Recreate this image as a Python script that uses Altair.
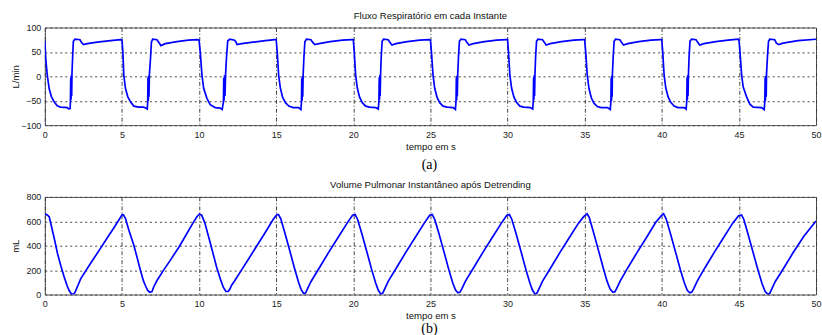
import altair as alt
import pandas as pd

# ---- Flow (L/min), cycle by cycle ----
flow_t = [
    0.00, 0.06, 0.16, 0.28, 0.43, 0.60, 0.82, 1.03, 1.46, 1.57, 1.64, 1.66, 1.68, 1.70, 1.72, 1.74, 1.76, 1.80, 1.85, 1.95, 2.28, 2.37, 2.50, 2.76, 3.40, 4.26, 4.90,
    5.00, 5.06, 5.12, 5.23, 5.38, 5.55, 5.77, 6.09, 6.41, 6.59, 6.64, 6.67, 6.69, 6.71, 6.73, 6.75, 6.78, 6.85, 6.91, 6.99, 7.27, 7.38, 7.53, 7.81, 8.57, 9.30, 9.90,
    10.00, 10.08, 10.19, 10.30, 10.51, 10.72, 11.05, 11.37, 11.50, 11.58, 11.60, 11.62, 11.65, 11.68, 11.72, 11.78, 11.86, 12.00, 12.30, 12.40, 12.46, 12.76, 13.50, 14.30, 14.92,
    15.00, 15.07, 15.16, 15.27, 15.42, 15.60, 15.82, 16.10, 16.45, 16.60, 16.64, 16.66, 16.68, 16.70, 16.72, 16.75, 16.80, 16.86, 16.96, 17.25, 17.36, 17.50, 17.78, 18.50, 19.30, 19.92,
    20.00, 20.06, 20.15, 20.26, 20.40, 20.58, 20.80, 21.05, 21.45, 21.62, 21.66, 21.68, 21.70, 21.72, 21.74, 21.77, 21.81, 21.87, 21.96, 22.26, 22.37, 22.50, 22.76, 23.50, 24.30, 24.92,
    25.00, 25.07, 25.17, 25.28, 25.43, 25.60, 25.82, 26.08, 26.48, 26.62, 26.66, 26.68, 26.70, 26.72, 26.74, 26.77, 26.82, 26.88, 26.98, 27.26, 27.36, 27.50, 27.78, 28.50, 29.30, 29.92,
    30.00, 30.06, 30.15, 30.26, 30.41, 30.58, 30.80, 31.05, 31.48, 31.63, 31.67, 31.69, 31.71, 31.73, 31.75, 31.78, 31.82, 31.88, 31.97, 32.27, 32.38, 32.50, 32.77, 33.50, 34.30, 34.92,
    35.00, 35.07, 35.17, 35.28, 35.43, 35.60, 35.82, 36.08, 36.48, 36.66, 36.70, 36.72, 36.74, 36.76, 36.78, 36.80, 36.85, 36.91, 37.00, 37.28, 37.39, 37.52, 37.80, 38.50, 39.30, 39.92,
    40.00, 40.06, 40.15, 40.26, 40.41, 40.58, 40.80, 41.05, 41.45, 41.58, 41.62, 41.64, 41.66, 41.68, 41.70, 41.73, 41.77, 41.83, 41.93, 42.22, 42.33, 42.46, 42.74, 43.50, 44.30, 44.96,
    45.00, 45.07, 45.18, 45.28, 45.50, 45.71, 45.93, 46.47, 46.64, 46.68, 46.70, 46.72, 46.74, 46.77, 46.79, 46.85, 46.92, 47.00, 47.32, 47.43, 47.58, 47.86, 48.83, 50.00,
]
flow_v = [
    73, 36, 2, -25, -42, -52, -61, -63, -64, -67, -66, -50, -3, -48, 2, -40, 6, 38, 72, 76, 75, 70, 65, 67, 70, 73, 75,
    74, 50, 2, -25, -42, -52, -61, -63, -63, -66, -67, -52, -2, -50, 1, -42, 4, 36, 70, 76, 75, 70, 63, 67, 71, 74, 75,
    74, 48, 2, -25, -45, -58, -64, -65, -68, -52, -3, -50, 2, -40, 5, 40, 73, 76, 74, 70, 65, 67, 70, 73, 75,
    75, 48, 2, -24, -43, -54, -61, -64, -64, -68, -52, -4, -50, 0, -42, 5, 40, 71, 76, 75, 70, 65, 67, 71, 74, 75,
    75, 50, 3, -24, -42, -54, -61, -63, -64, -67, -50, -2, -48, 2, -40, 6, 40, 72, 76, 75, 70, 64, 67, 71, 74, 75,
    74, 48, 2, -25, -43, -54, -61, -63, -64, -68, -51, -3, -49, 1, -41, 5, 40, 72, 76, 75, 70, 64, 67, 71, 74, 75,
    75, 50, 3, -24, -42, -53, -61, -63, -64, -67, -50, -2, -48, 2, -40, 6, 40, 72, 76, 75, 70, 64, 67, 71, 74, 75,
    75, 48, 2, -25, -44, -55, -62, -64, -64, -68, -52, -3, -50, 1, -42, 5, 40, 72, 76, 75, 70, 64, 67, 71, 74, 75,
    75, 50, 3, -24, -42, -53, -61, -64, -64, -67, -50, -2, -48, 2, -40, 6, 40, 72, 76, 75, 70, 64, 67, 71, 74, 76,
    75, 50, 2, -22, -42, -57, -63, -64, -68, -52, -3, -50, 1, -42, 3, 40, 72, 76, 75, 68, 65, 68, 73, 76,
]

# ---- Volume (mL) ----
vol_t = [
    0.00, 0.12, 0.28, 0.37, 0.60, 0.82, 1.05, 1.25, 1.45, 1.57, 1.70, 1.79, 1.88, 1.97, 2.15, 2.33, 3.00, 3.50, 4.00, 4.50, 4.80, 5.02,
    5.10, 5.23, 5.45, 5.77, 6.00, 6.20, 6.40, 6.52, 6.67, 6.80, 6.95, 7.05, 7.27, 7.70, 8.13, 8.70, 9.20, 9.60, 9.85, 10.02,
    10.17, 10.39, 10.71, 11.14, 11.40, 11.57, 11.74, 11.89, 12.00, 12.10, 12.32, 12.80, 13.30, 13.80, 14.30, 14.80, 15.05,
    15.15, 15.30, 15.55, 15.90, 16.20, 16.45, 16.62, 16.78, 16.90, 17.02, 17.25, 17.80, 18.40, 19.00, 19.60, 19.95,
    20.12, 20.28, 20.55, 20.90, 21.20, 21.45, 21.62, 21.78, 21.90, 22.03, 22.27, 22.80, 23.40, 24.00, 24.60, 24.95,
    25.12, 25.28, 25.55, 25.90, 26.20, 26.45, 26.62, 26.78, 26.92, 27.05, 27.28, 27.80, 28.40, 29.00, 29.60, 29.95,
    30.12, 30.28, 30.55, 30.90, 31.20, 31.45, 31.62, 31.78, 31.90, 32.03, 32.27, 32.80, 33.40, 34.00, 34.60, 34.95,
    35.16, 35.30, 35.55, 35.90, 36.20, 36.45, 36.65, 36.82, 36.95, 37.08, 37.30, 37.80, 38.40, 39.00, 39.60, 40.00,
    40.12, 40.28, 40.55, 40.90, 41.20, 41.45, 41.65, 41.82, 41.95, 42.08, 42.30, 42.80, 43.40, 44.00, 44.60, 44.98,
    45.17, 45.32, 45.58, 45.93, 46.25, 46.50, 46.70, 46.88, 47.00, 47.12, 47.35, 47.90, 48.50, 49.20, 50.00,
]
vol_v = [
    660, 655, 638, 590, 465, 337, 230, 145, 70, 35, 8, 0, 4, 22, 76, 131, 262, 358, 455, 552, 611, 655,
    652, 622, 526, 403, 295, 197, 110, 74, 33, 19, 25, 60, 115, 200, 280, 390, 498, 585, 635, 660,
    650, 580, 430, 224, 120, 60, 25, 25, 45, 74, 115, 210, 310, 410, 510, 615, 655,
    655, 620, 510, 350, 210, 100, 40, 8, 12, 45, 105, 220, 345, 465, 585, 650,
    655, 615, 500, 340, 200, 95, 35, 5, 10, 45, 110, 220, 345, 465, 585, 650,
    655, 615, 500, 340, 200, 95, 38, 15, 20, 50, 112, 220, 345, 465, 585, 650,
    655, 615, 500, 340, 200, 95, 35, 5, 10, 45, 110, 220, 345, 465, 585, 640,
    662, 630, 520, 360, 220, 110, 45, 20, 22, 50, 110, 220, 345, 465, 590, 650,
    662, 620, 505, 345, 205, 100, 35, 14, 20, 50, 110, 220, 345, 465, 585, 645,
    652, 615, 500, 340, 195, 90, 25, 3, 10, 42, 105, 215, 340, 475, 603,
]

x_ticks = [0, 5, 10, 15, 20, 25, 30, 35, 40, 45, 50]
flow_ticks = [-100, -50, 0, 50, 100]
vol_ticks = [0, 200, 400, 600, 800]

title_a = "Fluxo Respiratório em cada Instante"
title_b = "Volume Pulmonar Instantâneo após Detrending"

flow_df = pd.DataFrame({"t": flow_t, "v": flow_v})
vol_df = pd.DataFrame({"t": vol_t, "v": vol_v})

W, H = 774, 98
SANS = "Liberation Sans"


def panel(df, ytitle, ydomain, yticks, title, title_offset):
    return (
        alt.Chart(df)
        .mark_line(color="#0000FF", strokeWidth=1.7, clip=True)
        .encode(
            x=alt.X(
                "t:Q",
                scale=alt.Scale(domain=[0, 50], nice=False, zero=False),
                axis=alt.Axis(
                    values=x_ticks, title="tempo em s", labelFlush=False,
                    gridDash=[4, 2, 1, 2], labelPadding=5, titlePadding=2,
                ),
            ),
            y=alt.Y(
                "v:Q",
                scale=alt.Scale(domain=ydomain, nice=False, zero=False),
                axis=alt.Axis(
                    values=yticks, title=ytitle, gridDash=[2, 3],
                    labelPadding=4, minExtent=20, maxExtent=20, titlePadding=4,
                ),
            ),
        )
        .properties(
            width=W, height=H,
            title=alt.TitleParams(
                title, fontSize=9.6, font=SANS, fontWeight="normal",
                anchor="middle", frame="group", baseline="alphabetic",
                offset=title_offset, color="#111111",
            ),
        )
    )


top = panel(flow_df, "L/min", [-100, 100], flow_ticks, title_a, -5)
bot = panel(vol_df, "mL", [0, 800], vol_ticks, title_b, -5)

cap_a = alt.vconcat(
    top,
    title=alt.TitleParams(
        "(a)", orient="bottom", font="Liberation Serif", fontSize=14,
        fontWeight="normal", anchor="middle", frame="group", dx=386, offset=7,
        color="#000000",
    ),
)
cap_b = alt.vconcat(
    bot,
    title=alt.TitleParams(
        "(b)", orient="bottom", font="Liberation Serif", fontSize=14,
        fontWeight="normal", anchor="middle", frame="group", dx=386, offset=2,
        color="#000000",
    ),
)

chart = (
    alt.vconcat(cap_a, cap_b, spacing=6)
    .properties(padding={"left": 10, "top": 9, "right": 0, "bottom": 0})
    .configure_view(stroke="#555555", strokeWidth=1)
    .configure_axis(
        grid=True, gridColor="#333333", gridWidth=1, gridOpacity=0.9,
        ticks=False, tickSize=0, domain=False,
        labelFont=SANS, labelFontSize=9, labelColor="#222222",
        titleFont=SANS, titleFontSize=9.6, titleFontWeight="normal", titleColor="#111111",
    )
)

chart.save("out.html", embed_options={"renderer": "svg", "actions": False})
